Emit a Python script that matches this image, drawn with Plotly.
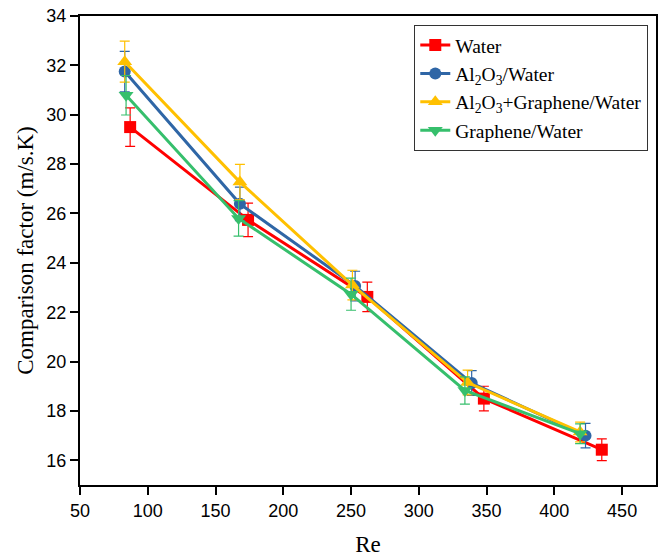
import plotly.graph_objects as go

# Data
names = ["Water", "Al<sub>2</sub>O<sub>3</sub>/Water",
         "Al<sub>2</sub>O<sub>3</sub>+Graphene/Water", "Graphene/Water"]
re_water = [87, 174, 262, 348, 435]
cf_water = [29.5, 25.74, 22.62, 18.5, 16.43]
err_water = [0.78, 0.68, 0.6, 0.5, 0.44]

re_al2o3 = [83, 168, 253, 339, 423]
cf_al2o3 = [31.75, 26.39, 23.06, 19.13, 17.0]
err_al2o3 = [0.82, 0.68, 0.6, 0.5, 0.5]

re_hybrid = [83, 168, 251, 336, 419]
cf_hybrid = [32.15, 27.27, 23.1, 19.15, 17.15]
err_hybrid = [0.83, 0.72, 0.6, 0.5, 0.4]

re_graph = [84, 167, 250, 334, 419]
cf_graph = [30.79, 25.8, 22.73, 18.83, 17.08]
err_graph = [0.8, 0.72, 0.65, 0.55, 0.4]

colors = ["#FF0000", "#2F66A6", "#FFC000", "#36BF6C"]
symbols = ["square", "circle", "triangle-up", "triangle-down"]
sizes = [12, 12, 13, 13]

xs = [re_water, re_al2o3, re_hybrid, re_graph]
ys = [cf_water, cf_al2o3, cf_hybrid, cf_graph]
errs = [err_water, err_al2o3, err_hybrid, err_graph]

x_ticks = [50, 100, 150, 200, 250, 300, 350, 400, 450]
y_ticks = [16, 18, 20, 22, 24, 26, 28, 30, 32, 34]

fig = go.Figure()
for n, x, y, e, c, s, sz in zip(names, xs, ys, errs, colors, symbols, sizes):
    fig.add_trace(go.Scatter(
        x=x, y=y, name=n, mode="lines+markers",
        line=dict(color=c, width=3),
        marker=dict(symbol=s, size=sz, color=c),
        error_y=dict(type="data", array=e, visible=True, color=c,
                     thickness=1.2, width=5),
    ))

serif = "Liberation Serif, Times New Roman, serif"
sans = "Liberation Sans, Arial, sans-serif"

fig.update_layout(
    width=661, height=557,
    margin=dict(l=80, r=3, t=16, b=72),
    plot_bgcolor="white", paper_bgcolor="white",
    showlegend=True,
    legend=dict(
        x=0.9866, y=0.981, xanchor="right", yanchor="top",
        bgcolor="white", bordercolor="#333333", borderwidth=1,
        font=dict(family=serif, size=19.5, color="black"),
        itemwidth=30, tracegroupgap=0,
    ),
    xaxis=dict(
        range=[50, 475], tickvals=x_ticks, ticks="outside", ticklen=8, tickwidth=1.5,
        tickcolor="black", showline=True, linecolor="black", linewidth=2, mirror=True,
        showgrid=False, zeroline=False,
        tickfont=dict(family=sans, size=18, color="black"),
        title=dict(text="Re", standoff=16,
                   font=dict(family=serif, size=23, color="black")),
    ),
    yaxis=dict(
        range=[15.0, 34.0], tickvals=y_ticks, ticks="outside", ticklen=8, tickwidth=1.5,
        tickcolor="black", showline=True, linecolor="black", linewidth=2, mirror=True,
        showgrid=False, zeroline=False,
        tickfont=dict(family=sans, size=18, color="black"),
        title=dict(text="Comparison factor (m/s.K)", standoff=6,
                   font=dict(family=serif, size=23, color="black")),
    ),
)

fig.write_html("out.html")
